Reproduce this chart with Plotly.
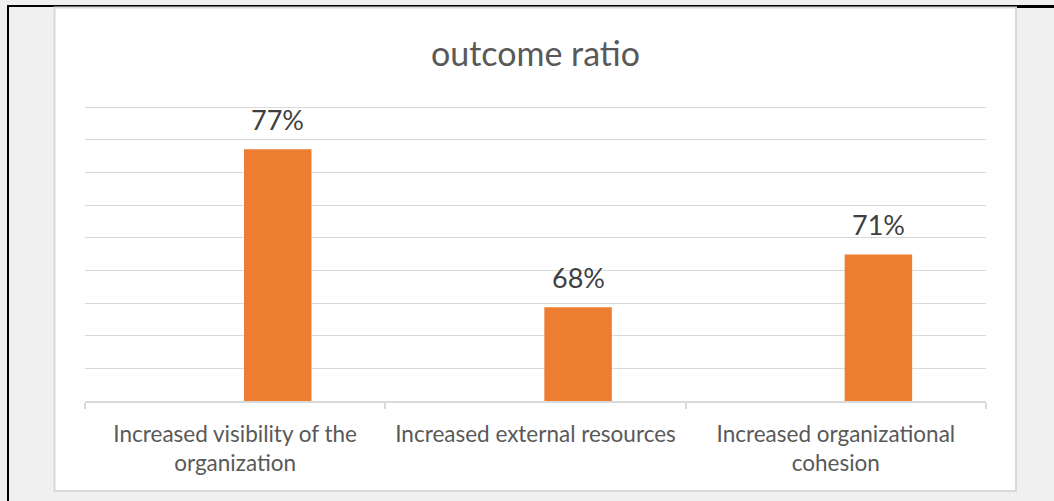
import plotly.graph_objects as go

# Survey outcomes and their shares (percent)
categories = [
    "Increased visibility of the organization",
    "Increased external resources",
    "Increased organizational cohesion",
]
tick_labels = [
    "Increased visibility of the<br>organization",
    "Increased external resources",
    "Increased organizational<br>cohesion",
]
values = [77, 68, 71]

W, H = 1054, 501
# plot area in pixels (a little headroom above the top gridline)
PL, PR, PT, PB = 85, 986, 103, 401

def px_x(px):
    return (px - PL) / (PR - PL)

def px_y(py):
    return (PB - py) / (PB - PT)

y_min = 62.66
grid_top = 79.40
grid_step = (grid_top - y_min) / 9
y_max = grid_top + (107 - PT) * (grid_top - y_min) / (PB - 107)

bar_offset = 0.0294
bar_width = 0.2247
FONT = "Lato"

fig = go.Figure()
fig.add_trace(go.Bar(
    x=categories,
    y=[v - y_min for v in values],
    base=y_min,
    marker=dict(color="#ED7D31", line=dict(width=0)),
    offset=bar_offset,
    width=bar_width,
    hoverinfo="skip",
))

shift_px = (bar_offset + bar_width / 2) * (PR - PL) / 3
for c, v in zip(categories, values):
    fig.add_annotation(
        x=c, y=v, xref="x", yref="y",
        text=f"{v}%", showarrow=False,
        xshift=shift_px, yshift=30, yanchor="middle",
        font=dict(family=FONT, size=27, color="#404040"),
    )

shapes = [
    # page frame lines
    dict(type="line", xref="paper", yref="paper",
         x0=px_x(7), x1=px_x(W), y0=px_y(6), y1=px_y(6),
         line=dict(color="black", width=2), layer="below"),
    dict(type="line", xref="paper", yref="paper",
         x0=px_x(1016), x1=px_x(W), y0=px_y(6.5), y1=px_y(6.5),
         line=dict(color="black", width=3), layer="below"),
    dict(type="line", xref="paper", yref="paper",
         x0=px_x(8), x1=px_x(8), y0=px_y(6), y1=px_y(H + 2),
         line=dict(color="black", width=2), layer="below"),
    # chart area
    dict(type="rect", xref="paper", yref="paper",
         x0=px_x(54.5), x1=px_x(1016), y0=px_y(7.5), y1=px_y(491),
         fillcolor="white", line=dict(color="#d9d9d9", width=2), layer="below"),
]

fig.update_layout(
    width=W, height=H,
    margin=dict(l=PL, r=W - PR, t=PT, b=H - PB, pad=0),
    paper_bgcolor="#f0f0f0",
    plot_bgcolor="white",
    shapes=shapes,
    showlegend=False,
    title=dict(
        text="outcome ratio", x=0.5, xref="paper", xanchor="center",
        y=1 - 54 / H, yanchor="middle",
        font=dict(family=FONT, size=34, color="#595959"),
    ),
    xaxis=dict(
        type="category",
        tickvals=categories, ticktext=tick_labels,
        showline=True, linecolor="#d9d9d9", linewidth=1.5,
        ticks="outside", tickson="boundaries", ticklen=6,
        tickcolor="#d9d9d9", tickwidth=1.5,
        ticklabelstandoff=12,
        showgrid=False,
        tickfont=dict(family=FONT, size=22.5, color="#595959"),
        range=[-0.5, 2.5],
    ),
    yaxis=dict(
        range=[y_min, y_max],
        tick0=y_min, dtick=grid_step,
        showgrid=True, gridcolor="#d9d9d9", gridwidth=1.3,
        showticklabels=False, zeroline=False, ticks="",
    ),
)

fig.write_html("out.html")
